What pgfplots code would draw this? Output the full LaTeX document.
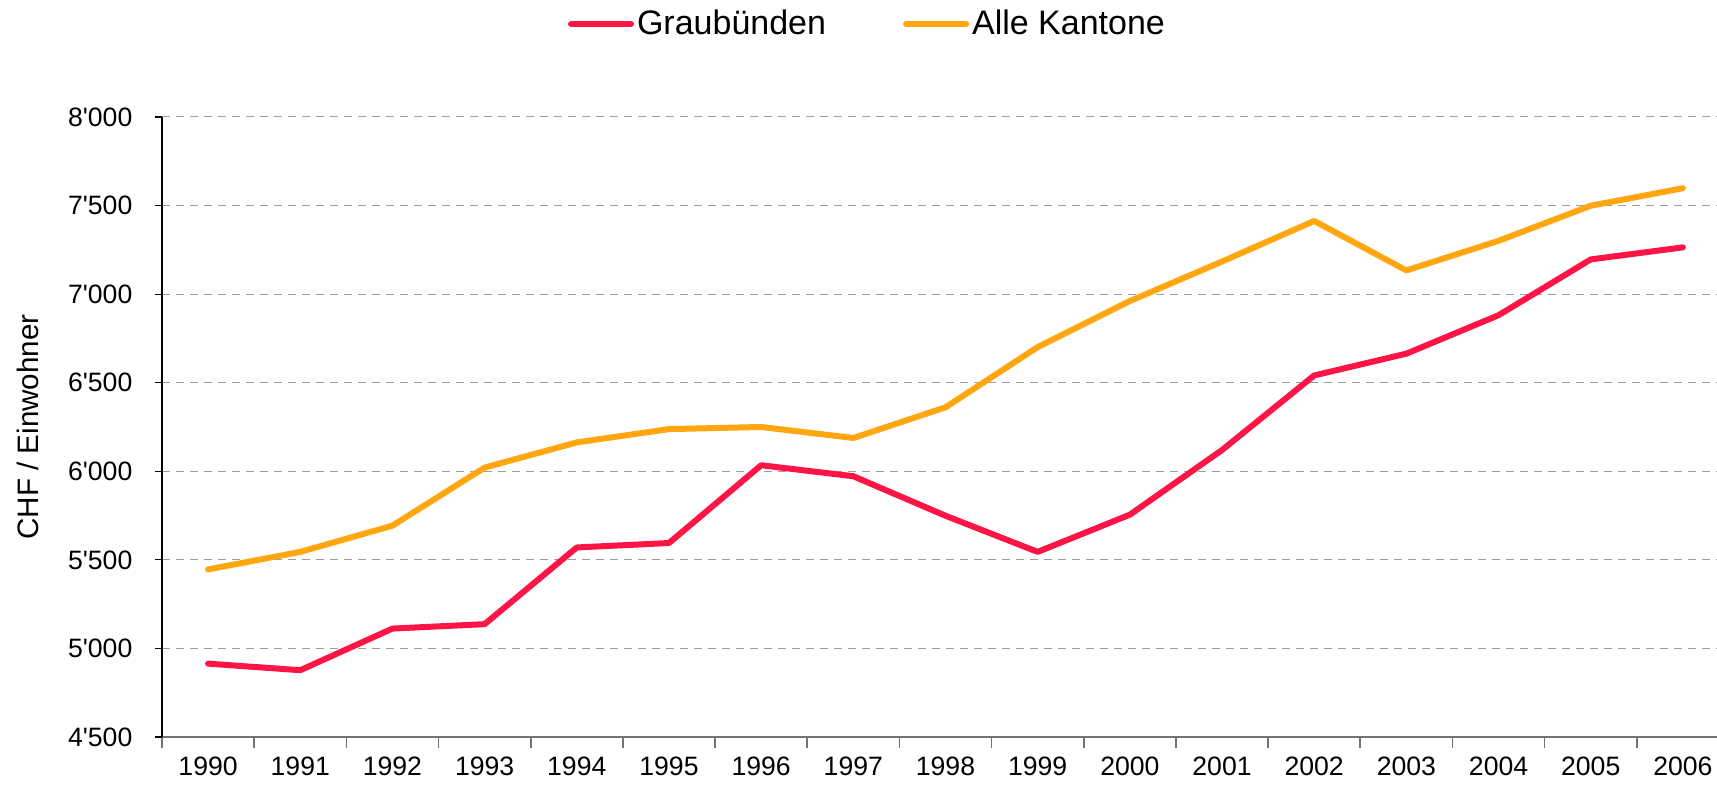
\documentclass[border=0pt]{standalone}
\usepackage{fontspec}
\setmainfont{Liberation Sans}
\usepackage{pgfplots}
\pgfplotsset{compat=1.18}
\definecolor{gbred}{RGB}{255,20,70}
\definecolor{alleor}{RGB}{255,166,17}
\newcommand\q{\textquotesingle}
\begin{document}
\begin{tikzpicture}
\begin{axis}[
  at={(0,0)}, anchor=south west,
  scale only axis, width=777.5pt, height=310pt,
  xmin=-0.5, xmax=16.37, ymin=4500, ymax=8000,
  axis lines*=left,
  x axis line style={draw=black!55, line width=0.9pt},
  y axis line style={draw=black, line width=0.6pt},
  tick align=outside,
  xtick={0,...,16},
  xticklabels={1990,1991,1992,1993,1994,1995,1996,1997,1998,1999,2000,2001,2002,2003,2004,2005,2006},
  minor xtick={-0.5,0.5,...,15.5},
  every major x tick/.append style={draw=none},
  every minor x tick/.append style={draw=black!55, line width=0.8pt},
  major tick length=3.3pt, minor tick length=5.5pt,
  ytick={4500,5000,...,8000},
  yticklabels={4\q500,5\q000,5\q500,6\q000,6\q500,7\q000,7\q500,8\q000},
  every major y tick/.append style={draw=black, line width=0.6pt},
  ymajorgrids,
  major grid style={draw=black!38, dash pattern=on 4pt off 3pt, line width=0.5pt},
  tick label style={font=\fontsize{13.3}{15}\selectfont},
  xticklabel style={yshift=-3pt},
  yticklabel style={xshift=-8pt},
  ylabel={CHF / Einwohner},
  every axis y label/.style={at={(axis description cs:-0.0862,0.5)},rotate=90,anchor=center,font=\fontsize{14.8}{17}\selectfont},
  legend style={at={(0.454,1.15)}, anchor=center, draw=none, fill=none, legend columns=2,
    font=\fontsize{17}{19}\selectfont,
    /tikz/every even column/.append style={column sep=37pt},
    nodes={inner xsep=1.5pt}},
  legend image code/.code={\draw[#1, line cap=round] (0pt,0pt) -- (30pt,0pt);},
  every axis plot/.append style={line width=3pt, line cap=round, line join=round},
]
\addplot[gbred] coordinates {
(0,4914) (1,4877) (2,5112) (3,5137) (4,5570) (5,5595) (6,6034) (7,5972) (8,5749)
(9,5545) (10,5755) (11,6120) (12,6541) (13,6664) (14,6881) (15,7196) (16,7264)};
\addlegendentry{Graubünden}
\addplot[alleor] coordinates {
(0,5446) (1,5545) (2,5693) (3,6021) (4,6163) (5,6238) (6,6250) (7,6188) (8,6361)
(9,6701) (10,6961) (11,7184) (12,7413) (13,7134) (14,7301) (15,7499) (16,7598)};
\addlegendentry{Alle Kantone}
\end{axis}
\pgfresetboundingbox
\useasboundingbox (-81pt,-27pt) rectangle (777.5pt,368.5pt);
\end{tikzpicture}
\end{document}
